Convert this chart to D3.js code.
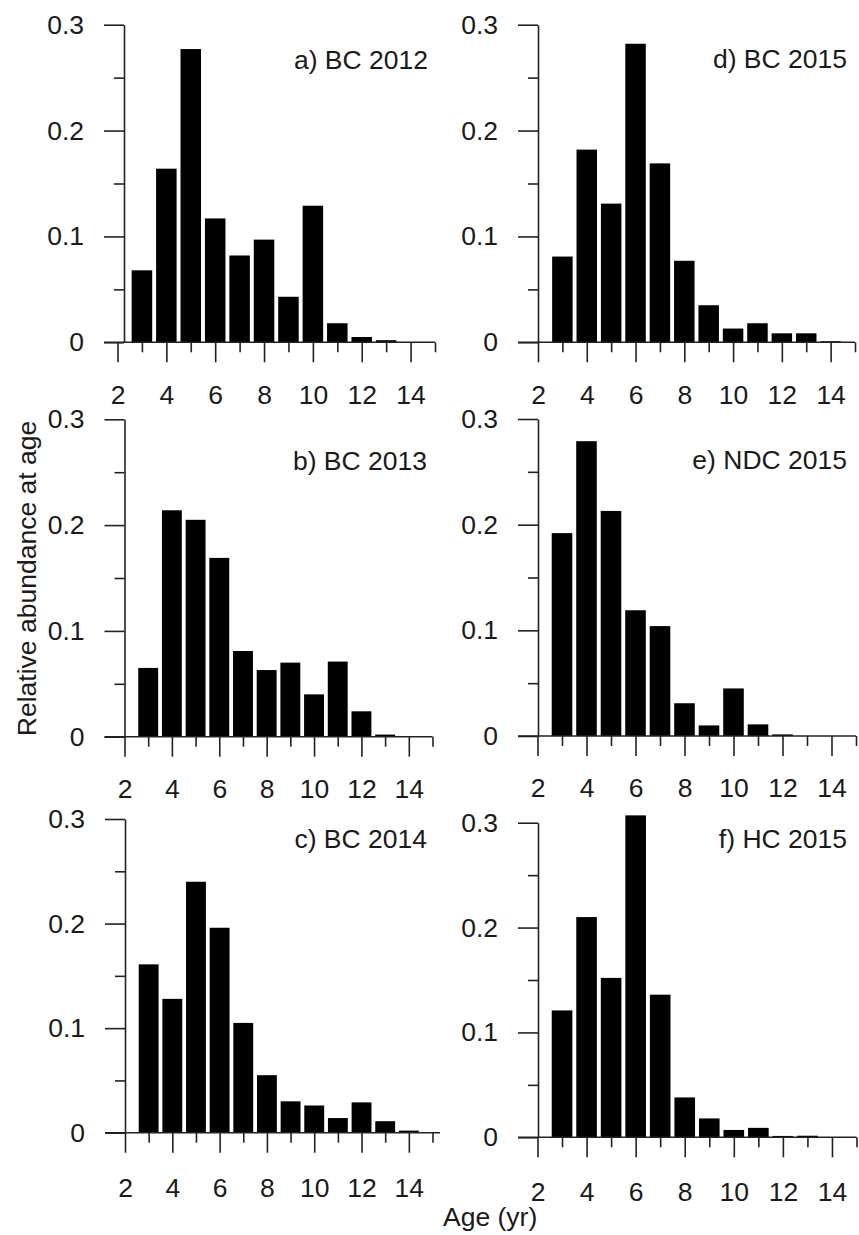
<!DOCTYPE html>
<html>
<head>
<meta charset="utf-8">
<script src="https://cdn.jsdelivr.net/npm/d3@7/dist/d3.min.js"></script>
<style>
  html, body { margin: 0; padding: 0; background: #fff; }
  svg { display: block; }
  text { font-family: "Liberation Sans", Arial, sans-serif; fill: #1a1a1a; }
</style>
</head>
<body>
<svg id="chart" width="859" height="1235"></svg>
<script>
// ---- Data ----
const ages = [3, 4, 5, 6, 7, 8, 9, 10, 11, 12, 13, 14];
const bc2012 = [0.068, 0.164, 0.277, 0.117, 0.082, 0.097, 0.043, 0.129, 0.018, 0.005, 0.002, 0];
const bc2013 = [0.065, 0.214, 0.205, 0.169, 0.081, 0.063, 0.070, 0.040, 0.071, 0.024, 0.002, 0];
const bc2014 = [0.161, 0.128, 0.240, 0.196, 0.105, 0.055, 0.030, 0.026, 0.014, 0.029, 0.011, 0.002];
const bc2015 = [0.081, 0.182, 0.131, 0.282, 0.169, 0.077, 0.035, 0.013, 0.018, 0.0085, 0.0085, 0.001];
const ndc2015 = [0.192, 0.279, 0.213, 0.119, 0.104, 0.031, 0.010, 0.045, 0.011, 0.0015, 0, 0];
const hc2015 = [0.121, 0.210, 0.152, 0.307, 0.136, 0.038, 0.018, 0.007, 0.009, 0.0013, 0.0015, 0];
const panelTitles = ["a) BC 2012", "b) BC 2013", "c) BC 2014", "d) BC 2015", "e) NDC 2015", "f) HC 2015"];
const xMajorTicks = [2, 4, 6, 8, 10, 12, 14];
const xMinorTicks = [3, 5, 7, 9, 11, 13, 15];
const yMajorTicks = [0, 0.1, 0.2, 0.3];
const yMajorLabels = ["0", "0.1", "0.2", "0.3"];
const yMinorTicks = [0.05, 0.15, 0.25];
const xLabel = "Age (yr)";
const yLabel = "Relative abundance at age";

// ---- Layout (positions only) ----
const panels = [
  { title: panelTitles[0], values: bc2012,  yAx: 124,   x0: 117.5, x1: 435,   y0: 342.3,  y1: 24.7,  lblX: 428,   lblY: 69,  tickPad: 22.5, baseEnd: 435 },
  { title: panelTitles[1], values: bc2013,  yAx: 124.5, x0: 124.5, x1: 432.5, y0: 736.7,  y1: 419.3, lblX: 427,   lblY: 470, tickPad: 22.5, baseEnd: 432.5 },
  { title: panelTitles[2], values: bc2014,  yAx: 125,   x0: 125,   x1: 432.5, y0: 1132.7, y1: 819,   lblX: 427,   lblY: 848, tickPad: 25.5, baseEnd: 440 },
  { title: panelTitles[3], values: bc2015,  yAx: 538,   x0: 538,   x1: 855,   y0: 342.3,  y1: 24.7,  lblX: 847,   lblY: 68,  tickPad: 23,   baseEnd: 855 },
  { title: panelTitles[4], values: ndc2015, yAx: 538,   x0: 537.5, x1: 856,   y0: 736,    y1: 419,   lblX: 847,   lblY: 469, tickPad: 22.5, baseEnd: 856 },
  { title: panelTitles[5], values: hc2015,  yAx: 538,   x0: 537.5, x1: 856.5, y0: 1137.3, y1: 822.7, lblX: 847,   lblY: 848, tickPad: 25,   baseEnd: 856.5 }
];

const FONT = 26.5;
const STROKE = "#222";
const SW = 1.6;
const svg = d3.select("#chart");

panels.forEach(p => {
  const g = svg.append("g");
  const x = d3.scaleLinear().domain([2, 15]).range([p.x0, p.x1]);
  const y = d3.scaleLinear().domain([0, 0.3]).range([p.y0, p.y1]);
  const unit = x(3) - x(2);
  const bw = unit * 0.84;

  // bars
  g.selectAll("rect.bar")
    .data(ages.map((a, i) => ({ age: a, v: p.values[i] })).filter(d => d.v > 0))
    .join("rect")
    .attr("class", "bar")
    .attr("x", d => x(d.age) - bw / 2)
    .attr("width", bw)
    .attr("y", d => y(d.v))
    .attr("height", d => y(0) - y(d.v))
    .attr("fill", "#000");

  // baseline (x-axis line), from y-axis zero stub to end
  g.append("line")
    .attr("x1", p.yAx - 20).attr("x2", p.baseEnd)
    .attr("y1", y(0)).attr("y2", y(0))
    .attr("stroke", STROKE).attr("stroke-width", SW);

  // x major ticks + labels
  const xMaj = g.append("g").attr("transform", `translate(0,${y(0)})`)
    .call(d3.axisBottom(x).tickValues(xMajorTicks).tickFormat(d3.format("d"))
      .tickSize(20).tickSizeOuter(0).tickPadding(p.tickPad));
  xMaj.select(".domain").remove();
  xMaj.selectAll("line").attr("stroke", STROKE).attr("stroke-width", SW);
  xMaj.selectAll("text").attr("font-size", FONT).attr("fill", "#1a1a1a")
    .style("font-family", '"Liberation Sans", Arial, sans-serif');

  // x minor ticks
  const xMin = g.append("g").attr("transform", `translate(0,${y(0)})`)
    .call(d3.axisBottom(x).tickValues(xMinorTicks).tickFormat("").tickSize(10).tickSizeOuter(0));
  xMin.select(".domain").remove();
  xMin.selectAll("line").attr("stroke", STROKE).attr("stroke-width", SW);

  // y axis major
  const yMaj = g.append("g").attr("transform", `translate(${p.yAx},0)`)
    .call(d3.axisLeft(y).tickValues(yMajorTicks).tickFormat((d, i) => yMajorLabels[i])
      .tickSize(20).tickSizeOuter(0).tickPadding(20));
  yMaj.select(".domain").attr("stroke", STROKE).attr("stroke-width", SW);
  yMaj.selectAll("line").attr("stroke", STROKE).attr("stroke-width", SW);
  yMaj.selectAll("text").attr("font-size", FONT).attr("fill", "#1a1a1a")
    .style("font-family", '"Liberation Sans", Arial, sans-serif');

  // y minor
  const yMin = g.append("g").attr("transform", `translate(${p.yAx},0)`)
    .call(d3.axisLeft(y).tickValues(yMinorTicks).tickFormat("").tickSize(10).tickSizeOuter(0));
  yMin.select(".domain").remove();
  yMin.selectAll("line").attr("stroke", STROKE).attr("stroke-width", SW);

  // panel title
  g.append("text")
    .attr("x", p.lblX).attr("y", p.lblY)
    .attr("text-anchor", "end")
    .attr("font-size", FONT)
    .text(p.title);
});

// axis titles
svg.append("text")
  .attr("transform", "translate(36,578.5) rotate(-90)")
  .attr("text-anchor", "middle")
  .attr("font-size", FONT)
  .text(yLabel);

svg.append("text")
  .attr("x", 443).attr("y", 1226)
  .attr("font-size", FONT)
  .text(xLabel);
</script>
</body>
</html>
